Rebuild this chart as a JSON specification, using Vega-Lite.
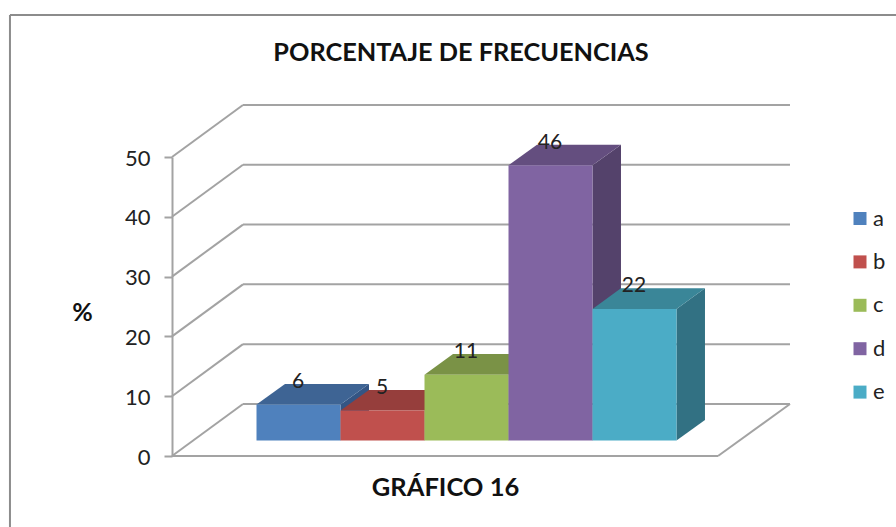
{
"$schema":"https://vega.github.io/schema/vega-lite/v6.json",
"width":546,"height":299,
"autosize":{"type":"none"},
"padding":{"left":172,"top":157,"right":178,"bottom":71},
"background":"#ffffff",
"config":{"view":{"stroke":null},"font":"Lato"},
"title":{"text":"PORCENTAJE DE FRECUENCIAS","anchor":"middle","frame":"group","dx":16,"dy":52,"offset":0,"font":"Lato","fontSize":25.3,"fontWeight":"bold","color":"#111111"},
"datasets":{
"bars":[{"cat":"a","value":6},{"cat":"b","value":5},{"cat":"c","value":11},{"cat":"d","value":46},{"cat":"e","value":22}],
"ticks":[{"tick":0},{"tick":10},{"tick":20},{"tick":30},{"tick":40},{"tick":50}],
"frame":[{"side":"top"},{"side":"left"}]
},
"resolve":{"scale":{"color":"independent"}},
"layer":[
{"data":{"name":"frame"},
"transform":[
{"calculate":"-1.929","as":"x0"},{"calculate":"datum.side=='top'?8.62:-1.929","as":"x1"},
{"calculate":"73.75","as":"y0"},{"calculate":"datum.side=='top'?73.75:-11.9","as":"y1"}],
"mark":{"type":"rule","color":"#8c8c8c","strokeWidth":2},
"encoding":{
"x":{"field":"x0","type":"quantitative","scale":{"domain":[0,6.5],"nice":false,"zero":false},"axis":{"title":"GRÁFICO 16","labels":false,"ticks":false,"domain":false,"grid":false,"titleFont":"Lato","titleFontSize":25.5,"titleFontWeight":"bold","titleColor":"#111111","titlePadding":19}},
"x2":{"field":"x1"},
"y":{"field":"y0","type":"quantitative","scale":{"domain":[0,50],"nice":false,"zero":false},"axis":{"title":"%","values":[0,10,20,30,40,50],"grid":false,"domainColor":"#a3a3a3","domainWidth":2,"tickColor":"#a3a3a3","tickWidth":2,"tickSize":8,"labelPadding":14,"labelFont":"Lato","labelFontSize":22,"labelOffset":1,"labelColor":"#222222","titleAngle":0,"titleFont":"Lato","titleFontSize":25,"titleFontWeight":"bold","titleColor":"#111111","titleX":-90,"titleY":168,"titleAlign":"center"}},
"y2":{"field":"y1"}}},
{"data":{"name":"ticks"},
"transform":[{"calculate":"0.845","as":"xb"},{"calculate":"datum.tick+8.7","as":"yb"},{"calculate":"0","as":"xf"}],
"mark":{"type":"rule","color":"#a3a3a3","strokeWidth":2},
"encoding":{"x":{"field":"xf","type":"quantitative"},"x2":{"field":"xb"},"y":{"field":"tick","type":"quantitative"},"y2":{"field":"yb"}}},
{"data":{"name":"ticks"},
"transform":[{"calculate":"0.845","as":"xb"},{"calculate":"7.357","as":"xr"},{"calculate":"datum.tick+8.7","as":"yb"}],
"mark":{"type":"rule","color":"#a3a3a3","strokeWidth":2},
"encoding":{"x":{"field":"xb","type":"quantitative"},"x2":{"field":"xr"},"y":{"field":"yb","type":"quantitative"}}},
{"data":{"name":"ticks"},
"transform":[{"filter":"datum.tick==0"},{"calculate":"0","as":"xa"},{"calculate":"6.5","as":"xe"}],
"mark":{"type":"rule","color":"#a3a3a3","strokeWidth":2},
"encoding":{"x":{"field":"xa","type":"quantitative"},"x2":{"field":"xe"},"y":{"field":"tick","type":"quantitative"}}},
{"data":{"name":"ticks"},
"transform":[{"filter":"datum.tick==0"},{"calculate":"6.5","as":"xe"},{"calculate":"7.357","as":"xr"},{"calculate":"8.7","as":"yb"}],
"mark":{"type":"rule","color":"#a3a3a3","strokeWidth":2},
"encoding":{"x":{"field":"xe","type":"quantitative"},"x2":{"field":"xr"},"y":{"field":"tick","type":"quantitative"},"y2":{"field":"yb"}}},
{"data":{"name":"bars"},
"transform":[
{"calculate":"0","as":"near"},{"calculate":"1","as":"far"},
{"fold":["near","far"],"as":["end","t"]},
{"calculate":"indexof('abcde',datum.cat)+2.006+datum.t*0.339","as":"sx"},
{"calculate":"2.6+datum.t*3.44","as":"sy0"},
{"calculate":"datum.sy0+datum.value","as":"sy1"}],
"mark":{"type":"area","opacity":1,"line":false},
"encoding":{
"x":{"field":"sx","type":"quantitative"},
"y":{"field":"sy0","type":"quantitative"},"y2":{"field":"sy1"},
"color":{"field":"cat","type":"nominal","legend":null,"scale":{"domain":["a","b","c","d","e"],"range":["#345584","#7f3533","#667b3b","#54426b","#327183"]}}}},
{"data":{"name":"bars"},
"transform":[
{"calculate":"0","as":"near"},{"calculate":"1","as":"far"},
{"fold":["near","far"],"as":["end","t"]},
{"calculate":"indexof('abcde',datum.cat)+1.006+datum.t*0.339","as":"tx0"},
{"calculate":"datum.tx0+1","as":"tx1"},
{"calculate":"2.6+datum.value+datum.t*3.44","as":"ty"}],
"mark":{"type":"area","orient":"horizontal","opacity":1},
"encoding":{
"y":{"field":"ty","type":"quantitative"},
"x":{"field":"tx0","type":"quantitative"},"x2":{"field":"tx1"},
"color":{"field":"cat","type":"nominal","legend":null,"scale":{"domain":["a","b","c","d","e"],"range":["#3e6494","#963e3c","#7a9246","#644e7f","#3a8698"]}}}},
{"data":{"name":"bars"},
"transform":[
{"calculate":"indexof('abcde',datum.cat)+1.006","as":"fx0"},
{"calculate":"datum.fx0+1","as":"fx1"},
{"calculate":"2.6","as":"fy0"},
{"calculate":"2.6+datum.value","as":"fy1"}],
"mark":{"type":"rect"},
"encoding":{
"x":{"field":"fx0","type":"quantitative"},"x2":{"field":"fx1"},
"y":{"field":"fy0","type":"quantitative"},"y2":{"field":"fy1"},
"color":{"field":"cat","type":"nominal","scale":{"domain":["a","b","c","d","e"],"range":["#4f81bd","#c0504d","#9bbb59","#8064a2","#4bacc6"]},
"legend":{"title":null,"orient":"none","legendX":677,"legendY":50.5,"padding":0,"symbolType":"square","symbolSize":169,"symbolStrokeWidth":0,"symbolOpacity":1,"labelFont":"Lato","labelFontSize":22,"labelColor":"#222222","labelOffset":2,"rowPadding":21.4}}}},
{"data":{"name":"bars"},
"transform":[
{"calculate":"indexof('abcde',datum.cat)+1.5","as":"lx"},
{"calculate":"2.6+datum.value+3.75","as":"ly"}],
"mark":{"type":"text","font":"Lato","fontSize":21,"color":"#222222","baseline":"middle","align":"center"},
"encoding":{
"x":{"field":"lx","type":"quantitative"},
"y":{"field":"ly","type":"quantitative"},
"text":{"field":"value","type":"quantitative"}}}
]
}
